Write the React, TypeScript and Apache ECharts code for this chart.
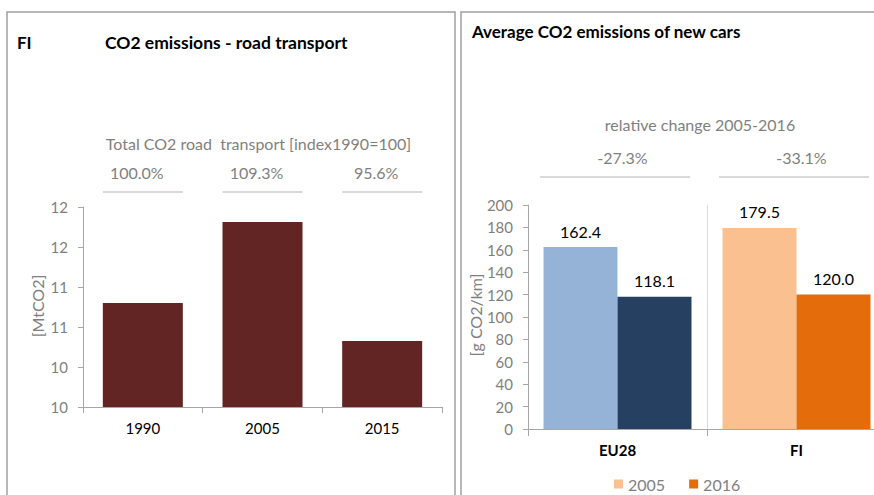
import React, { useEffect, useRef } from "react";
import * as echarts from "echarts";

// ---- data ----
const years = ["1990", "2005", "2015"];
const roadCO2 = [11.04, 11.85, 10.66];
const roadIndexLabels = ["100.0%", "109.3%", "95.6%"];
const roadMin = 10;
const roadMax = 12;
const roadStep = 0.4;

const regions = ["EU28", "FI"];
const cars2005 = [162.4, 179.5];
const cars2016 = [118.1, 120.0];
const relChangeLabels = ["-27.3%", "-33.1%"];
const carsMin = 0;
const carsMax = 200;
const carsStep = 20;

// ---- styles ----
const FONT = "Lato";
const GRAY = "#7f7f7f";
const AXIS = "#a6a6a6";
const BORDER = "#a0a0a0";
const SEP = "#d9d9d9";
const roadColor = "#632523";
const colors2005 = ["#95B3D7", "#FAC090"];
const colors2016 = ["#254061", "#E46C0A"];

export default function App() {
  const ref = useRef<HTMLDivElement>(null);
  useEffect(() => {
    if (!ref.current) return;
    const chart = echarts.init(ref.current, null, { renderer: "svg" });
    const option: any = {
      animation: false,
      textStyle: { fontFamily: FONT },
      grid: [
        { left: 83, top: 207, width: 359, height: 200, containLabel: false, outerBoundsMode: "none" },
        { left: 528, top: 205, width: 358, height: 224, containLabel: false, outerBoundsMode: "none" },
      ],
      legend: {
        data: ["2005", "2016"],
        left: 614,
        top: 476,
        icon: "rect",
        itemWidth: 9,
        itemHeight: 9,
        itemGap: 24,
        padding: 0,
        textStyle: { fontFamily: FONT, fontSize: 16, color: GRAY },
      },
      xAxis: [
        {
          type: "category",
          gridIndex: 0,
          data: years,
          axisLine: { lineStyle: { color: AXIS } },
          axisTick: { show: true, length: 6, lineStyle: { color: AXIS } },
          axisLabel: { color: "#000", fontSize: 15, margin: 13, fontFamily: FONT },
        },
        {
          type: "category",
          gridIndex: 1,
          data: regions,
          axisLine: { lineStyle: { color: AXIS } },
          axisTick: { show: true, length: 7, lineStyle: { color: AXIS } },
          axisLabel: { color: "#000", fontSize: 15, fontWeight: "bold", margin: 13, fontFamily: FONT },
          splitLine: { show: true, lineStyle: { color: SEP, width: 1 } },
        },
      ],
      yAxis: [
        {
          type: "value",
          gridIndex: 0,
          min: roadMin,
          max: roadMax,
          interval: roadStep,
          axisLine: { show: true, lineStyle: { color: AXIS } },
          axisTick: { show: true, length: 5, lineStyle: { color: AXIS } },
          splitLine: { show: false },
          axisLabel: {
            color: GRAY,
            fontSize: 15,
            margin: 15,
            fontFamily: FONT,
            formatter: (v: number) => String(Math.round(v)),
          },
        },
        {
          type: "value",
          gridIndex: 1,
          min: carsMin,
          max: carsMax,
          interval: carsStep,
          axisLine: { show: true, lineStyle: { color: AXIS } },
          axisTick: { show: true, length: 5, lineStyle: { color: AXIS } },
          splitLine: { show: false },
          axisLabel: { color: GRAY, fontSize: 15, margin: 15, fontFamily: FONT },
        },
      ],
      series: [
        {
          type: "bar",
          name: "road",
          xAxisIndex: 0,
          yAxisIndex: 0,
          data: roadCO2,
          barWidth: 80,
          itemStyle: { color: roadColor },
        },
        {
          type: "bar",
          name: "2005",
          xAxisIndex: 1,
          yAxisIndex: 1,
          barWidth: 74,
          barGap: "0%",
          itemStyle: { color: colors2005[1] },
          data: cars2005.map((v, i) => ({ value: v, itemStyle: { color: colors2005[i] } })),
          label: {
            show: true,
            position: "top",
            distance: 8,
            color: "#000",
            fontSize: 16,
            fontFamily: FONT,
            formatter: (p: any) => Number(p.value).toFixed(1),
          },
        },
        {
          type: "bar",
          name: "2016",
          xAxisIndex: 1,
          yAxisIndex: 1,
          barWidth: 74,
          barGap: "0%",
          itemStyle: { color: colors2016[1] },
          data: cars2016.map((v, i) => ({ value: v, itemStyle: { color: colors2016[i] } })),
          label: {
            show: true,
            position: "top",
            distance: 8,
            color: "#000",
            fontSize: 16,
            fontFamily: FONT,
            formatter: (p: any) => Number(p.value).toFixed(1),
          },
        },
      ],
    };
    chart.setOption(option);

    // annotations positioned through the axes
    const leftCenters = years.map((y) => chart.convertToPixel({ xAxisIndex: 0 }, y) as number);
    const rightCenters = regions.map((r) => chart.convertToPixel({ xAxisIndex: 1 }, r) as number);
    const rightBand = rightCenters[1] - rightCenters[0];
    const leftMid = (leftCenters[0] + leftCenters[2]) / 2;

    const gText = (text: string, x: number, y: number, opts: any = {}) => ({
      type: "text",
      x,
      y,
      style: {
        text,
        fontFamily: FONT,
        fontSize: opts.fontSize || 16,
        fontWeight: opts.bold ? "bold" : "normal",
        fill: opts.color || GRAY,
        align: opts.align || "center",
        verticalAlign: "middle",
      },
      rotation: opts.rotation || 0,
    });
    const gLine = (x1: number, x2: number, y: number) => ({
      type: "line",
      shape: { x1, y1: y, x2, y2: y },
      style: { stroke: SEP, lineWidth: 2 },
    });

    const graphic: any[] = [
      // panel borders
      { type: "rect", shape: { x: 7, y: 12, width: 448, height: 500 }, style: { fill: "none", stroke: BORDER, lineWidth: 1.5 } },
      { type: "rect", shape: { x: 461, y: 12, width: 500, height: 500 }, style: { fill: "none", stroke: BORDER, lineWidth: 1.5 } },
      // left panel titles
      gText("FI", 17, 42, { bold: true, color: "#000", align: "left", fontSize: 17 }),
      gText("CO2 emissions - road transport", 105, 42, { bold: true, color: "#000", align: "left", fontSize: 17.5 }),
      gText("Total CO2 road  transport [index1990=100]", leftMid - 4, 143, { fontSize: 16 }),
      ...roadIndexLabels.map((t, i) => gText(t, leftCenters[i] - 6, 172, { fontSize: 16 })),
      ...leftCenters.map((c) => gLine(c - 40, c + 40, 192)),
      gText("[MtCO2]", 37, 306, { fontSize: 16, rotation: Math.PI / 2 }),
      // right panel titles
      gText("Average CO2 emissions of new cars", 472, 31, { bold: true, color: "#000", align: "left", fontSize: 17 }),
      gText("relative change 2005-2016", (rightCenters[0] + rightCenters[1]) / 2 - 7, 124, { fontSize: 16 }),
      ...relChangeLabels.map((t, i) => gText(t, rightCenters[i] + 5, 157, { fontSize: 16 })),
      ...rightCenters.map((c) => gLine(c - rightBand / 2 + 12, c + rightBand / 2 - 17, 177)),
      gText("[g CO2/km]", 475, 315, { fontSize: 16, rotation: Math.PI / 2 }),
    ];
    chart.setOption({ graphic });

    return () => chart.dispose();
  }, []);
  return (
    <div
      ref={ref}
      style={{ position: "fixed", left: 0, top: 0, width: 874, height: 495, background: "#fff" }}
    />
  );
}
